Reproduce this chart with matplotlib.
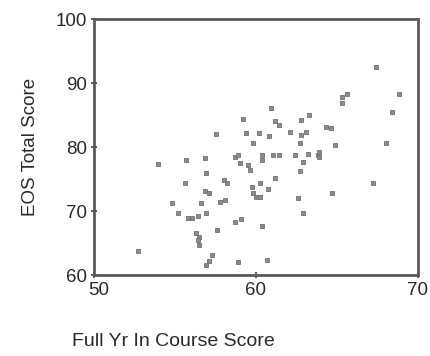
import matplotlib
matplotlib.use("Agg")
import matplotlib.pyplot as plt
import matplotlib.transforms as mtransforms

plt.rcParams['font.family'] = ['Liberation Sans', 'DejaVu Sans']

x_vals = [52.7, 53.95, 55.7, 56.85, 57.5, 56.9, 58.0, 58.2, 55.6, 56.85, 57.1,
          54.8, 56.6, 57.8, 58.1, 55.2, 55.8, 56.05, 56.4, 56.9, 57.6,
          56.3, 56.5, 56.4, 56.5, 57.3, 57.1, 56.9, 58.9, 60.7, 58.7, 59.1,
          60.4, 62.6, 62.9, 64.7, 67.2, 59.75, 59.8, 60.0, 60.25, 60.75,
          60.25, 61.2, 62.7, 62.9, 60.4, 59.0, 59.5, 59.6, 58.7, 58.9,
          60.4, 61.05, 61.4, 62.4, 63.2, 63.8, 59.8, 62.7, 59.4, 60.2, 60.8,
          62.1, 62.8, 63.1, 59.2, 61.2, 61.4, 62.8, 63.3, 60.9, 67.4,
          65.6, 65.3, 65.3, 68.8, 68.4, 64.3, 64.6, 64.9, 68.0, 63.9, 63.9]
y_vals = [63.8, 77.3, 78.0, 78.3, 82.0, 75.9, 74.8, 74.3, 74.4, 73.2, 72.8,
          71.25, 71.3, 71.4, 71.7, 69.7, 68.9, 68.9, 69.2, 69.7, 67.1,
          66.6, 65.9, 65.4, 64.7, 63.1, 62.2, 61.5, 62.1, 62.3, 68.3, 68.8,
          67.7, 72.0, 69.7, 72.8, 74.4, 73.7, 72.8, 72.2, 72.2, 73.4,
          74.4, 75.2, 76.25, 77.7, 78.0, 77.5, 77.2, 76.4, 78.4, 78.8,
          78.75, 78.8, 78.8, 78.8, 78.9, 78.8, 80.6, 80.6, 82.2, 82.2, 81.7,
          82.3, 81.9, 82.3, 84.4, 84.0, 83.4, 84.2, 85.0, 86.1, 92.5,
          88.3, 87.8, 86.9, 88.3, 85.5, 83.1, 83.0, 80.3, 80.6, 79.2, 78.4]

x_ticks = [50, 60, 70]
y_ticks = [60, 70, 80, 90, 100]

fig = plt.figure(figsize=(4.3, 3.56), dpi=100)
ax = fig.add_axes([94/430, 1-275/356, (418-94)/430, (275-19)/356])
ax.plot(x_vals, y_vals, linestyle='none', marker='s', markersize=3.0,
        color='#8c8c8c', markeredgecolor='#707070', markeredgewidth=0.6)
ax.set_xlim(50, 70)
ax.set_ylim(60, 100)
ax.set_xticks(x_ticks)
ax.set_yticks(y_ticks)
for s in ax.spines.values():
    s.set_color('#5a5a5a')
    s.set_linewidth(2)
ax.tick_params(direction='inout', length=4, width=1.2, color='#444444',
               labelsize=13.5, labelcolor='#2a2a2a', pad=3)
ax.set_ylabel('EOS Total Score', fontsize=13.5, color='#2a2a2a', labelpad=12)
fig.canvas.draw()
lbl = ax.get_xticklabels()[0]
lbl.set_transform(lbl.get_transform() +
                  mtransforms.ScaledTranslation(5/100, 0, fig.dpi_scale_trans))
fig.text(72/430, 1-342/356, 'Full Yr In Course Score', fontsize=14,
         color='#2a2a2a', ha='left', va='center')
fig.savefig('out.png', dpi=100)
